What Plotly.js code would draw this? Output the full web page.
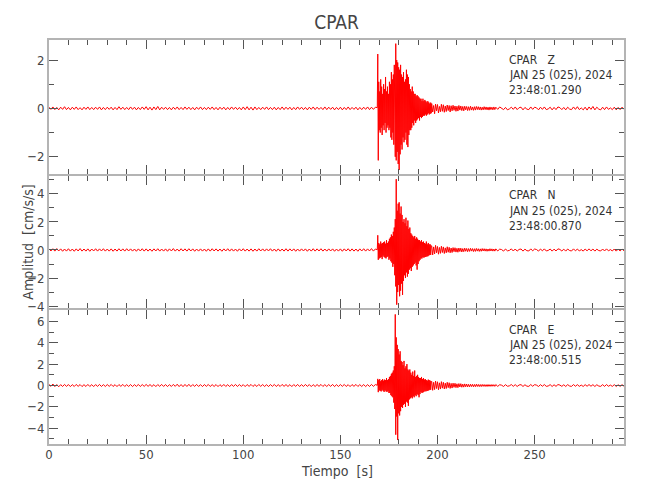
<!DOCTYPE html>
<html><head><meta charset="utf-8">
<script src="https://cdn.plot.ly/plotly-3.0.1.min.js"></script>
<style>html,body{margin:0;padding:0;background:#fff}#chart{width:650px;height:500px}</style>
</head><body><div id="chart"></div>
<script>
// ---- sampling (s) ----
const preStart = 0, preStep = 1;        // quiet part before the event
const evStart = 169, evStep = 0.25;     // strong-motion part
const codaStart = 197, codaStep = 0.5;  // coda
const tailStart = 230, tailStep = 1;    // quiet tail

// ---- Z component (cm/s/s) ----
const zPre = [0.05,-0.04,0.06,-0.05,0.04,-0.06,0.05,-0.04,0.07,-0.05,
0.04,-0.06,0.05,-0.04,0.06,-0.05,0.03,-0.06,0.05,-0.04,
0.06,-0.05,0.04,-0.05,0.05,-0.04,0.06,-0.06,0.04,-0.05,
0.05,-0.04,0.05,-0.06,0.04,-0.05,0.07,-0.04,0.05,-0.05,
0.04,-0.05,0.06,-0.04,0.05,-0.06,0.04,-0.05,0.06,-0.04,
0.07,-0.06,0.05,-0.07,0.06,-0.05,0.08,-0.06,0.05,-0.04,
0.05,-0.05,0.04,-0.06,0.05,-0.04,0.06,-0.05,0.04,-0.05,
0.06,-0.04,0.05,-0.05,0.04,-0.06,0.05,-0.04,0.06,-0.05,
0.04,-0.05,0.05,-0.04,0.06,-0.05,0.04,-0.06,0.05,-0.04,
0.05,-0.06,0.04,-0.05,0.06,-0.04,0.05,-0.05,0.04,-0.06,
0.06,-0.05,0.07,-0.06,0.05,-0.07,0.06,-0.05,0.04,-0.05,
0.05,-0.04,0.06,-0.05,0.04,-0.05,0.05,-0.06,0.04,-0.05,
0.06,-0.05,0.05,-0.04,0.05,-0.06,0.04,-0.05,0.06,-0.04,
0.05,-0.05,0.04,-0.06,0.05,-0.04,0.06,-0.05,0.05,-0.04,
0.04,-0.05,0.06,-0.05,0.05,-0.04,0.05,-0.06,0.04,-0.05,
0.05,-0.06,0.04,-0.05,0.06,-0.05,0.04,-0.04,0.05,-0.06,
0.04,-0.05,0.05,-0.04,0.06,-0.05,0.05,-0.04,0.05];
const zEv = [0.03,2.25,-2.15,1.1,-0.9,0.7,-1.0,1.2,-0.8,0.9,
-1.1,0.6,-0.7,1.0,-0.9,0.8,-0.6,1.3,-1.0,0.7,
-0.8,0.9,-0.7,0.6,-0.9,1.1,-0.8,1.0,-1.2,1.5,
-1.3,1.2,-1.0,1.4,-1.5,1.8,-1.6,-2.0,2.68,-2.15,
2.0,-1.8,1.9,-2.3,1.7,-2.55,1.6,-1.9,1.8,-1.5,
1.4,-1.7,1.3,-1.2,1.5,-1.4,1.1,-1.3,1.2,-1.0,
1.6,-1.5,1.4,-1.6,1.3,-1.1,1.0,-0.9,0.8,-0.9,
0.7,-0.8,0.9,-0.6,0.7,-0.7,0.6,-0.5,0.6,-0.6,
0.5,-0.5,0.55,-0.45,0.5,-0.4,0.45,-0.5,0.4,-0.35,
0.4,-0.4,0.3,-0.35,0.4,-0.3,0.3,-0.3,0.35,-0.25,
0.3,-0.3,0.25,-0.25,0.3,-0.2,0.25,-0.25,0.2,-0.22,
0.24,-0.2];
const zCoda = [0.2,-0.15,0.12,-0.22,0.18,-0.1,0.16,-0.19,0.08,-0.14,
0.17,-0.12,0.15,-0.16,0.1,-0.13,0.14,-0.09,0.12,-0.15,
0.11,-0.1,0.13,-0.08,0.1,-0.12,0.09,-0.11,0.12,-0.07,
0.1,-0.09,0.08,-0.1,0.09,-0.06,0.08,-0.09,0.07,-0.08,
0.09,-0.07,0.06,-0.08,0.07,-0.07,0.08,-0.05,0.07,-0.06,
0.06,-0.07,0.05,-0.06,0.07,-0.05,0.06,-0.06,0.05,-0.07,
0.06,-0.05,0.05,-0.06,0.06,-0.05];
const zTail = [0.05,-0.04,0.06,0.02,-0.05,0.04,-0.06,-0.02,0.05,-0.04,
0.06,-0.05,0.03,0.05,-0.06,0.04,-0.03,-0.05,0.06,-0.04,
0.05,0.02,-0.06,0.05,-0.04,0.06,-0.05,-0.02,0.05,-0.06,
0.04,-0.05,0.06,0.03,-0.05,0.04,-0.06,0.05,-0.03,-0.05,
0.06,-0.04,0.07,-0.05,0.02,-0.06,0.05,-0.07,0.06,-0.04,
0.08,-0.06,0.05,-0.03,-0.06,0.05,-0.05,0.06,-0.04,0.02,
-0.05,0.05,-0.06,0.04,-0.05,0.05,-0.04];

// ---- N component (cm/s/s) ----
const nPre = [0.08,-0.07,0.09,-0.08,0.1,-0.07,0.08,-0.09,0.07,-0.08,
0.09,-0.08,0.07,-0.09,0.08,-0.07,0.1,-0.08,0.07,-0.08,
0.08,-0.09,0.07,-0.07,0.09,-0.08,0.08,-0.07,0.09,-0.08,
0.07,-0.08,0.08,-0.09,0.07,-0.08,0.09,-0.07,0.08,-0.08,
0.09,-0.07,0.08,-0.08,0.07,-0.09,0.08,-0.07,0.09,-0.08,
0.08,-0.08,0.07,-0.09,0.08,-0.07,0.09,-0.08,0.07,-0.08,
0.08,-0.09,0.08,-0.07,0.1,-0.08,0.07,-0.08,0.09,-0.07,
0.08,-0.08,0.09,-0.07,0.08,-0.09,0.07,-0.08,0.08,-0.08,
0.07,-0.09,0.08,-0.08,0.09,-0.07,0.08,-0.08,0.07,-0.09,
0.08,-0.07,0.09,-0.08,0.08,-0.08,0.07,-0.09,0.08,-0.07,
0.09,-0.08,0.07,-0.08,0.08,-0.09,0.07,-0.08,0.09,-0.07,
0.08,-0.08,0.08,-0.07,0.09,-0.08,0.07,-0.09,0.08,-0.08,
0.07,-0.08,0.09,-0.08,0.08,-0.07,0.08,-0.09,0.07,-0.08,
0.08,-0.07,0.08,-0.09,0.07,-0.08,0.09,-0.08,0.08,-0.07,
0.09,-0.08,0.07,-0.08,0.08,-0.07,0.08,-0.09,0.07,-0.08,
0.08,-0.09,0.08,-0.07,0.09,-0.08,0.08,-0.08,0.07,-0.09,
0.08,-0.07,0.09,-0.08,0.08,-0.07,0.1,-0.08,0.07];
const nEv = [0.02,1.05,-0.7,0.5,-0.6,0.4,-0.55,0.6,-0.5,0.45,
-0.65,0.5,-0.4,0.55,-0.5,0.6,-0.55,0.45,-0.6,0.7,
-0.5,0.5,-0.45,0.6,-0.7,0.8,-0.6,0.9,-0.8,1.1,
-0.9,1.0,-1.2,1.3,-1.0,1.6,-1.8,2.2,-2.6,5.05,
-3.9,2.8,-3.0,3.3,-2.5,3.4,-3.3,2.6,-2.9,3.1,
-2.4,2.5,-3.2,2.0,-2.2,2.2,-1.8,1.9,-2.0,2.3,
-1.6,1.7,-1.9,2.1,-1.7,1.5,-1.4,1.6,-1.3,1.2,
-1.5,1.1,-1.2,1.0,-1.1,0.9,-1.0,1.0,-0.9,0.8,
-1.1,0.9,-1.4,0.8,-1.0,0.7,-0.8,0.7,-0.7,0.6,
-0.6,0.7,-0.6,0.55,-0.5,0.6,-0.55,0.5,-0.5,0.45,
-0.5,0.6,-0.45,0.4,-0.45,0.5,-0.4,0.4,-0.35,0.4,
-0.35,0.3];
const nCoda = [0.3,-0.35,0.22,-0.28,0.33,-0.2,0.25,-0.3,0.18,-0.24,
0.27,-0.18,0.22,-0.25,0.15,-0.2,0.23,-0.16,0.19,-0.2,
0.14,-0.18,0.17,-0.12,0.16,-0.15,0.12,-0.16,0.14,-0.11,
0.13,-0.14,0.1,-0.12,0.13,-0.09,0.11,-0.12,0.1,-0.1,
0.12,-0.08,0.1,-0.11,0.09,-0.1,0.11,-0.08,0.09,-0.1,
0.08,-0.09,0.1,-0.07,0.09,-0.08,0.08,-0.09,0.07,-0.08,
0.09,-0.07,0.08,-0.08,0.07,-0.08];
const nTail = [0.08,-0.07,0.06,0.03,-0.08,0.07,-0.06,-0.03,0.08,-0.07,
0.07,-0.08,0.04,0.07,-0.08,0.06,-0.05,-0.07,0.08,-0.06,
0.07,0.03,-0.08,0.07,-0.06,0.08,-0.07,-0.03,0.07,-0.08,
0.06,-0.07,0.08,0.04,-0.07,0.06,-0.08,0.07,-0.04,-0.07,
0.08,-0.06,0.07,-0.07,0.03,-0.08,0.07,-0.06,0.08,-0.06,
0.07,-0.08,0.06,-0.04,-0.07,0.07,-0.07,0.08,-0.06,0.03,
-0.07,0.07,-0.08,0.06,-0.07,0.07,-0.06];

// ---- E component (cm/s/s) ----
const ePre = [0.1,-0.08,0.14,-0.1,0.09,-0.12,0.08,-0.09,0.1,-0.08,
0.09,-0.1,0.08,-0.09,0.1,-0.08,0.09,-0.1,0.08,-0.09,
0.1,-0.09,0.08,-0.1,0.09,-0.08,0.1,-0.09,0.08,-0.09,
0.09,-0.08,0.1,-0.09,0.08,-0.1,0.09,-0.08,0.1,-0.09,
0.08,-0.09,0.09,-0.1,0.08,-0.08,0.1,-0.09,0.09,-0.08,
0.1,-0.08,0.09,-0.09,0.08,-0.1,0.09,-0.08,0.1,-0.09,
0.09,-0.1,0.08,-0.09,0.1,-0.08,0.12,-0.1,0.09,-0.11,
0.1,-0.09,0.11,-0.1,0.09,-0.08,0.1,-0.09,0.08,-0.1,
0.09,-0.08,0.1,-0.09,0.08,-0.09,0.09,-0.1,0.08,-0.09,
0.1,-0.09,0.08,-0.1,0.09,-0.08,0.1,-0.09,0.09,-0.08,
0.08,-0.1,0.09,-0.08,0.1,-0.09,0.08,-0.09,0.1,-0.08,
0.09,-0.09,0.08,-0.1,0.09,-0.08,0.1,-0.09,0.08,-0.09,
0.1,-0.08,0.09,-0.09,0.08,-0.1,0.09,-0.08,0.1,-0.09,
0.08,-0.09,0.1,-0.08,0.09,-0.1,0.08,-0.09,0.09,-0.08,
0.1,-0.09,0.08,-0.09,0.09,-0.08,0.1,-0.1,0.08,-0.09,
0.09,-0.08,0.1,-0.09,0.08,-0.1,0.09,-0.08,0.1,-0.09,
0.08,-0.09,0.09,-0.1,0.08,-0.09,0.1,-0.08,0.09];
const eEv = [0.02,0.62,-0.62,0.5,-0.45,0.6,-0.5,0.4,-0.55,0.5,
-0.4,0.6,-0.5,0.45,-0.6,0.55,-0.45,0.5,-0.55,0.7,
-0.6,0.5,-0.5,0.6,-0.7,0.8,-0.7,0.9,-0.9,1.1,
-1.0,1.2,-1.1,1.4,-1.6,1.8,-2.2,6.65,-4.6,4.5,
-2.9,3.8,-5.1,3.4,-2.6,2.9,-2.8,3.2,-2.4,2.3,
-2.0,2.2,-2.1,1.9,-1.8,2.3,-1.7,1.6,-2.0,1.8,
-1.5,2.0,-1.6,1.5,-1.9,1.4,-1.3,1.5,-1.2,1.2,
-1.1,1.0,-1.2,1.3,-1.0,0.9,-1.1,1.4,-0.9,0.8,
-1.0,0.9,-0.8,1.0,-0.9,0.8,-1.1,0.7,-0.8,0.7,
-0.6,0.8,-0.7,0.6,-0.65,0.7,-0.6,0.55,-0.5,0.6,
-0.55,0.5,-0.5,0.45,-0.5,0.55,-0.45,0.5,-0.4,0.45,
-0.4,0.35];
const eCoda = [0.4,-0.45,0.3,-0.38,0.42,-0.28,0.35,-0.4,0.25,-0.33,
0.36,-0.25,0.3,-0.32,0.22,-0.28,0.3,-0.2,0.26,-0.27,
0.2,-0.24,0.22,-0.17,0.21,-0.2,0.16,-0.2,0.18,-0.14,
0.17,-0.16,0.13,-0.15,0.15,-0.12,0.14,-0.13,0.11,-0.13,
0.12,-0.1,0.11,-0.12,0.1,-0.11,0.12,-0.09,0.1,-0.1,
0.09,-0.1,0.1,-0.08,0.09,-0.09,0.08,-0.09,0.09,-0.08,
0.08,-0.08,0.09,-0.07,0.08,-0.08];
const eTail = [0.09,-0.08,0.07,0.03,-0.09,0.08,-0.07,-0.03,0.09,-0.08,
0.08,-0.09,0.05,0.08,-0.09,0.07,-0.06,-0.08,0.09,-0.07,
0.08,0.03,-0.09,0.08,-0.07,0.09,-0.08,-0.04,0.08,-0.09,
0.07,-0.08,0.09,0.04,-0.08,0.07,-0.09,0.08,-0.05,-0.08,
0.09,-0.07,0.08,-0.08,0.04,-0.09,0.08,-0.07,0.09,-0.07,
0.08,-0.09,0.07,-0.05,-0.08,0.08,-0.08,0.09,-0.07,0.04,
-0.08,0.08,-0.09,0.07,-0.08,0.08,-0.07];

// ---- text ----
const stations = ['CPAR\u00a0\u00a0\u00a0Z', 'CPAR\u00a0\u00a0\u00a0N', 'CPAR\u00a0\u00a0\u00a0E'];
const dateLabel = 'JAN 25 (025), 2024';
const startTimes = ['23:48:01.290', '23:48:00.870', '23:48:00.515'];
const xTicks = [0, 50, 100, 150, 200, 250];

function series(parts) {
  const t = [], v = [];
  parts.forEach(([vals, start, step]) => vals.forEach((a, i) => { t.push(start + i * step); v.push(a); }));
  return {t, v};
}
const comps = [
  series([[zPre, preStart, preStep], [zEv, evStart, evStep], [zCoda, codaStart, codaStep], [zTail, tailStart, tailStep]]),
  series([[nPre, preStart, preStep], [nEv, evStart, evStep], [nCoda, codaStart, codaStep], [nTail, tailStart, tailStep]]),
  series([[ePre, preStart, preStep], [eEv, evStart, evStep], [eCoda, codaStart, codaStep], [eTail, tailStart, tailStep]])
];

const FONT = 'DejaVu Sans Condensed, Liberation Sans Narrow, Arial Narrow, sans-serif';
const LINE = '#b4b4b4', TICK = '#555', TXT = '#444';

const traces = comps.map((c, i) => ({
  x: c.t, y: c.v, type: 'scatter', mode: 'lines',
  xaxis: i === 0 ? 'x' : 'x' + (i + 1), yaxis: i === 0 ? 'y' : 'y' + (i + 1),
  line: {color: '#ff0000', width: 1}, hoverinfo: 'skip'
}));

function xax(showLabels, anchor) {
  return {range: [0, 296], anchor, showline: true, linecolor: LINE, linewidth: 2, mirror: 'ticks',
    ticks: 'inside', ticklen: 9, tickcolor: TICK, tickwidth: 1, tickvals: xTicks,
    minor: {dtick: 10, tick0: 0, ticks: 'inside', ticklen: 5, tickcolor: TICK, tickwidth: 1, showgrid: false},
    showticklabels: showLabels, ticklabelstandoff: -3, showgrid: false, zeroline: false, fixedrange: true,
    tickfont: {family: FONT, size: 13, color: TXT}};
}
function yax(range, domain, anchor) {
  return {range, domain, anchor, showline: true, linecolor: LINE, linewidth: 2, mirror: 'ticks',
    ticks: 'inside', ticklen: 9, tickcolor: TICK, tickwidth: 1, dtick: 2, tick0: 0,
    minor: {dtick: 1, tick0: 0, ticks: 'inside', ticklen: 5, tickcolor: TICK, tickwidth: 1, showgrid: false},
    showgrid: false, zeroline: false, fixedrange: true,
    tickfont: {family: FONT, size: 13, color: TXT}};
}

const g = 0.0025;
const annotations = [];
const textY = [[0.9505, 0.9134, 0.8762], [0.6163, 0.5767, 0.5396], [0.2822, 0.2450, 0.2079]];
for (let i = 0; i < 3; i++) {
  [stations[i], dateLabel, startTimes[i]].forEach((s, j) => annotations.push({
    text: s, xref: 'paper', yref: 'paper', x: 0.7965, y: textY[i][j], xanchor: 'left', yanchor: 'middle',
    showarrow: false, font: {family: FONT, size: 12, color: '#333'}
  }));
}
annotations.push({text: 'Tiempo  [s]', xref: 'paper', yref: 'paper', x: 0.5, y: -0.067, xanchor: 'center', yanchor: 'middle',
  showarrow: false, font: {family: FONT, size: 14, color: TXT}});
annotations.push({text: 'Amplitud  [cm/s/s]', xref: 'paper', yref: 'paper', x: -0.037, y: 0.5, xanchor: 'center', yanchor: 'middle',
  textangle: -90, showarrow: false, font: {family: FONT, size: 14, color: TXT}});

const layout = {
  width: 650, height: 500, margin: {l: 49, r: 26, t: 40, b: 56},
  paper_bgcolor: '#fff', plot_bgcolor: '#fff', showlegend: false,
  title: {text: 'CPAR', x: 0.5, xref: 'paper', y: 0.956, yref: 'container', yanchor: 'middle',
    font: {family: FONT, size: 19, color: TXT}},
  xaxis: xax(false, 'y'), xaxis2: xax(false, 'y2'), xaxis3: xax(true, 'y3'),
  yaxis: yax([-2.7, 2.83], [2 / 3 + g, 1], 'x'),
  yaxis2: yax([-4.16, 5.3], [1 / 3 + g, 2 / 3 - g], 'x2'),
  yaxis3: yax([-5.47, 7.03], [0, 1 / 3 - g], 'x3'),
  annotations
};
Plotly.newPlot('chart', traces, layout, {displayModeBar: false, staticPlot: true});
</script></body></html>
